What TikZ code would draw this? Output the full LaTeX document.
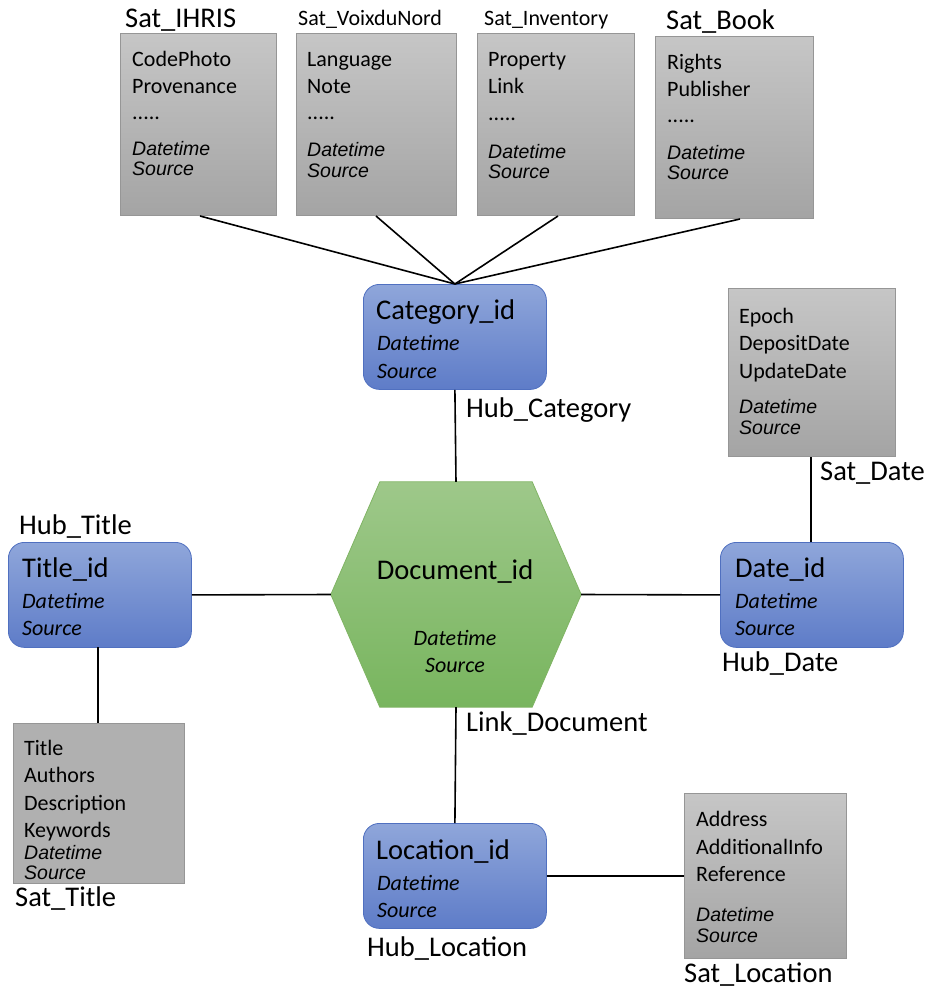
\documentclass[tikz,border=0pt]{standalone}
\usepackage{fontspec}
\setmainfont{Carlito}
\newfontfamily\arialf{Liberation Sans}
\definecolor{hubTop}{RGB}{143,166,218}
\definecolor{hubBot}{RGB}{94,124,200}
\definecolor{hubBorder}{RGB}{80,112,192}
\definecolor{satTop}{RGB}{198,198,198}
\definecolor{satBot}{RGB}{164,164,164}
\definecolor{satBorder}{RGB}{150,150,150}
\definecolor{satFlat}{RGB}{176,176,176}
\definecolor{docTop}{RGB}{158,200,138}
\definecolor{docBot}{RGB}{120,181,94}
\definecolor{docBorder}{RGB}{128,180,100}
\tikzset{
  satbox/.style={draw=satBorder, line width=0.8pt, top color=satTop, bottom color=satBot, anchor=north west, inner sep=0pt},
  hubbox/.style={draw=hubBorder, line width=0.8pt, top color=hubTop, bottom color=hubBot, rounded corners=16pt, anchor=north west, inner sep=0pt, minimum width=183pt, minimum height=105pt},
  txt/.style={anchor=base west, inner sep=0pt, font=\fontsize{22}{26}\selectfont},
  big/.style={anchor=base west, inner sep=0pt, font=\fontsize{28.5}{32}\selectfont},
  smalllab/.style={anchor=base west, inner sep=0pt, font=\fontsize{22}{26}\selectfont},
  hit/.style={anchor=base west, inner sep=0pt, font=\fontsize{22}{26}\selectfont\itshape},
  sit/.style={anchor=base west, inner sep=0pt, font=\arialf\fontsize{19.5}{23}\selectfont\itshape},
  conn/.style={line width=1.6pt, black},
}
\begin{document}
\begin{tikzpicture}[x=1pt,y=-1pt]
\useasboundingbox (0,0) rectangle (929,989);
% ---------- top satellites ----------
\node[satbox, minimum width=156pt, minimum height=182pt] (ihris) at (120,33) {};
\node[satbox, minimum width=160pt, minimum height=182pt] (voix) at (296,33) {};
\node[satbox, minimum width=157pt, minimum height=182pt] (inv) at (477,33) {};
\node[satbox, minimum width=158pt, minimum height=182pt] (book) at (655,36) {};
\node[big] (lihris) at (125,27) {Sat\_IHRIS};
\node[smalllab] (lvoix) at (298,25) {Sat\_VoixduNord};
\node[smalllab] (linv) at (484,25) {Sat\_Inventory};
\node[big] (lbook) at (666,29) {Sat\_Book};
% IHRIS
\node[txt] (i1) at (132,66) {CodePhoto};
\node[txt] (i2) at (132,93) {Provenance};
\node[txt] (i3) at (132,119) {.....};
\node[sit] (i4) at (132,155) {Datetime};
\node[sit] (i5) at (132,175) {Source};
% Voix
\node[txt] (v1) at (307,66) {Language};
\node[txt] (v2) at (307,93) {Note};
\node[txt] (v3) at (307,119) {.....};
\node[sit] (v4) at (307,156) {Datetime};
\node[sit] (v5) at (307,177) {Source};
% Inventory
\node[txt] (n1) at (488,66) {Property};
\node[txt] (n2) at (488,93) {Link};
\node[txt] (n3) at (488,120) {.....};
\node[sit] (n4) at (488,158) {Datetime};
\node[sit] (n5) at (488,178) {Source};
% Book
\node[txt] (b1) at (667,69) {Rights};
\node[txt] (b2) at (667,96) {Publisher};
\node[txt] (b3) at (667,122) {.....};
\node[sit] (b4) at (667,159) {Datetime};
\node[sit] (b5) at (667,179) {Source};
% ---------- hubs ----------
\node[hubbox] (cat) at (363,284) {};
\node[big] (c1) at (376,319) {Category\_id};
\node[hit] (c2) at (377,350) {Datetime};
\node[hit] (c3) at (377,378) {Source};
\node[big] (lcat) at (466,417) {Hub\_Category};

\node[hubbox] (title) at (8,542) {};
\node[big] (t1) at (22,577) {Title\_id};
\node[hit] (t2) at (22,608) {Datetime};
\node[hit] (t3) at (22,635) {Source};
\node[big] (ltitle) at (19,534) {Hub\_Title};

\node[hubbox] (date) at (720,542) {};
\node[big] (d1) at (735,577) {Date\_id};
\node[hit] (d2) at (735,608) {Datetime};
\node[hit] (d3) at (735,635) {Source};
\node[big] (ldate) at (722,671) {Hub\_Date};

\node[hubbox] (loc) at (363,823) {};
\node[big] (o1) at (376,859) {Location\_id};
\node[hit] (o2) at (377,890) {Datetime};
\node[hit] (o3) at (377,917) {Source};
\node[big] (lloc) at (367,956) {Hub\_Location};
% ---------- document hexagon ----------
\node[minimum width=250pt, minimum height=225pt, inner sep=0pt] (doc) at (456,594.5) {};
\path[draw=docBorder, line width=0.8pt, top color=docTop, bottom color=docBot]
  ([xshift=49pt]doc.north west) -- ([xshift=-49pt]doc.north east) -- (doc.east)
  -- ([xshift=-49pt]doc.south east) -- ([xshift=49pt]doc.south west) -- (doc.west) -- cycle;
\node[anchor=base, inner sep=0pt, font=\fontsize{28.5}{32}\selectfont] (dd1) at (455,579) {Document\_id};
\node[anchor=base, inner sep=0pt, font=\fontsize{22}{26}\selectfont\itshape] (dd2) at (455,645) {Datetime};
\node[anchor=base, inner sep=0pt, font=\fontsize{22}{26}\selectfont\itshape] (dd3) at (455,672) {Source};
\node[big] (ldoc) at (466,731) {Link\_Document};
% ---------- other satellites ----------
\node[draw=satBorder, line width=0.8pt, fill=satFlat, anchor=north west, inner sep=0pt, minimum width=171pt, minimum height=160pt] (stitle) at (13,723) {};
\node[txt] (s1) at (24,755) {Title};
\node[txt] (s2) at (24,782) {Authors};
\node[txt] (s3) at (24,810) {Description};
\node[txt] (s4) at (24,837) {Keywords};
\node[sit] (s5) at (24,859) {Datetime};
\node[sit] (s6) at (24,879) {Source};
\node[big] (lstitle) at (15,906) {Sat\_Title};

\node[satbox, minimum width=167pt, minimum height=168pt] (sdate) at (728,288) {};
\node[txt] (e1) at (739,323) {Epoch};
\node[txt] (e2) at (739,350) {DepositDate};
\node[txt] (e3) at (739,378) {UpdateDate};
\node[sit] (e4) at (739,413) {Datetime};
\node[sit] (e5) at (739,434) {Source};
\node[big] (lsdate) at (820,480) {Sat\_Date};

\node[satbox, minimum width=162pt, minimum height=165pt] (sloc) at (684,793) {};
\node[txt] (a1) at (696,826) {Address};
\node[txt] (a2) at (696,854) {AdditionalInfo};
\node[txt] (a3) at (696,881) {Reference};
\node[sit] (a4) at (696,921) {Datetime};
\node[sit] (a5) at (696,942) {Source};
\node[big] (lsloc) at (684,982) {Sat\_Location};
% ---------- connectors ----------
\coordinate (ihrisOut) at (200,216);
\coordinate (voixOut) at (376,216);
\coordinate (invOut) at (558,216);
\coordinate (bookOut) at (740,219);
\draw[conn] (ihrisOut) -- (cat.north);
\draw[conn] (voixOut) -- (cat.north);
\draw[conn] (invOut) -- (cat.north);
\draw[conn] (bookOut) -- (cat.north);
\draw[conn] (cat.south) -- (doc.north);
\draw[conn] (doc.south) -- (loc.north);
\draw[conn] (title.east) -- (doc.west);
\draw[conn] (doc.east) -- (date.west);
\draw[conn] (loc.east) -- (sloc.west |- loc.east);
\coordinate (titleDown) at (98,647);
\draw[conn] (titleDown) -- (titleDown |- stitle.north);
\coordinate (dateUp) at (811,542);
\draw[conn] (dateUp) -- (dateUp |- sdate.south);
\end{tikzpicture}
\end{document}
